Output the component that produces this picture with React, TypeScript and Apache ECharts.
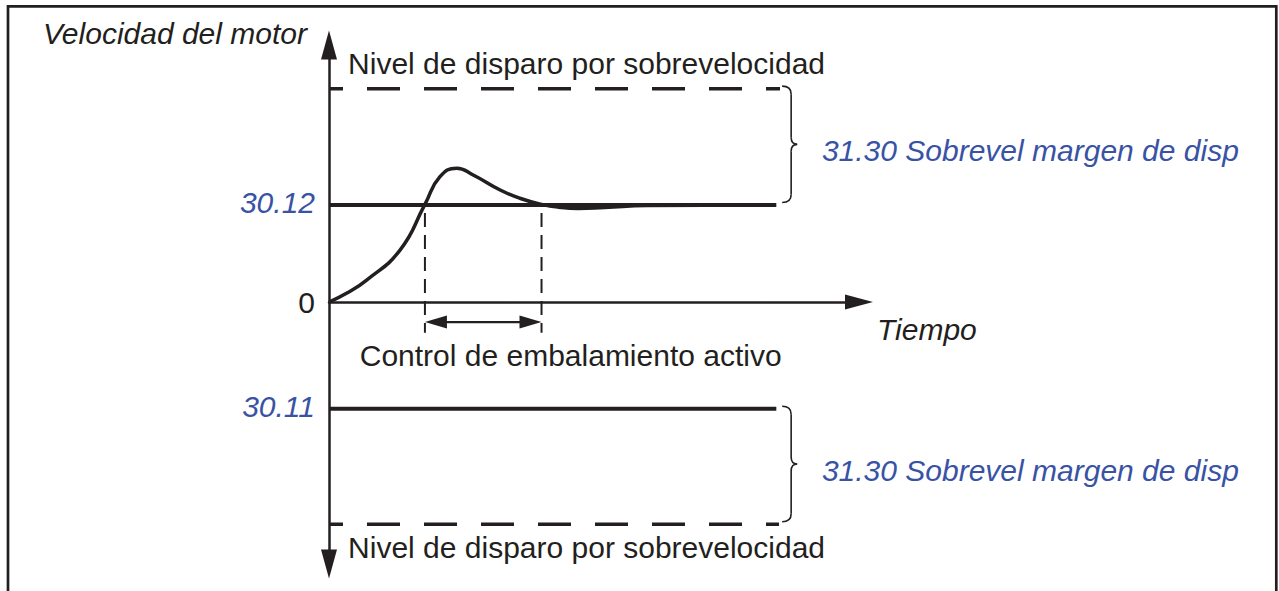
import React, { useEffect, useRef } from "react";
import * as echarts from "echarts";

const INK = "#231f20";
const BLUE = "#3953a4";
const FONT = "'Liberation Sans', Arial, Helvetica, sans-serif";
const FS = 30;

// Axes (time in arbitrary units, speed scaled so that 30.12 = 100)
const timeMin = 0;
const timeMax = 100;
const speedMin = -270;
const speedMax = 265;
const speedAxisName = "Velocidad del motor";

const speedTickValues = [-110, 0, 100];
const speedTickLabels = ["30.11", "0", "30.12"];

// Motor speed response
const curveTime = [0, 3.3, 7.1, 13.4, 18.1, 20.9, 24.1, 27.2, 32.3, 36, 40.1, 43.6, 47, 52, 60, 84.3];
const curveSpeed = [0, 9, 22.7, 53.6, 100.7, 129, 138, 131, 115.5, 107, 100.7, 97.6, 96.5, 97.5, 99.5, 100];

// Reference speeds 30.12 / 30.11
const refLevelSpeed = [100, -110];
const refLevelEnd = [84.4, 84.4];

// Overspeed trip levels
const tripLevelSpeed = [220, -229];
const tripLevelEnd = [85.1, 84.9];

// Overspeed control active window
const activeWindow = [18.1, 40.1];
const activeArrowSpeed = -20.6;
const activeMarkerBottom = -31.5;

// Braces for 31.30 margin
const braceTime = 85.5;
const braceTop = [220, -110];
const braceBottom = [100, -229];

// Annotations
const noteTexts = [
  "Nivel de disparo por sobrevelocidad",
  "Nivel de disparo por sobrevelocidad",
  "31.30 Sobrevel margen de disp",
  "31.30 Sobrevel margen de disp",
  "Control de embalamiento activo",
  "Tiempo",
];
const noteTime = [3.6, 3.6, 93, 93, 45.6, 103.4];
const noteSpeed = [246.4, -252.6, 156.2, -173.7, -54.6, -27.8];
const noteKinds = ["level", "level", "margin", "margin", "active", "axis"];

export default function App() {
  const ref = useRef<HTMLDivElement>(null);

  useEffect(() => {
    if (!ref.current) return;
    const chart = echarts.init(ref.current, undefined, { renderer: "svg" });

    const hLine = (speed: number, end: number) => [
      [timeMin, speed],
      [end, speed],
    ];

    const series: any[] = [];

    tripLevelSpeed.forEach((s, i) => {
      series.push({
        type: "line",
        name: "trip" + i,
        data: hLine(s, tripLevelEnd[i]),
        showSymbol: false,
        silent: true,
        lineStyle: { color: INK, width: 3.5, type: [33, 24], dashOffset: 19, cap: "butt" },
        z: 3,
      });
    });

    refLevelSpeed.forEach((s, i) => {
      series.push({
        type: "line",
        name: "ref" + i,
        data: hLine(s, refLevelEnd[i]),
        showSymbol: false,
        silent: true,
        lineStyle: { color: INK, width: 4 },
        z: 3,
      });
    });

    activeWindow.forEach((t, i) => {
      series.push({
        type: "line",
        name: "active" + i,
        data: [
          [t, refLevelSpeed[0]],
          [t, activeMarkerBottom],
        ],
        showSymbol: false,
        silent: true,
        lineStyle: { color: INK, width: 2, type: [14, 8], dashOffset: 14 },
        z: 3,
      });
    });

    series.push({
      type: "line",
      name: "speed",
      data: curveTime.map((t, i) => [t, curveSpeed[i]]),
      smooth: 0.5,
      showSymbol: false,
      silent: true,
      lineStyle: { color: INK, width: 3.5 },
      z: 4,
    });

    series.push({
      type: "custom",
      name: "braces",
      coordinateSystem: "cartesian2d",
      clip: false,
      silent: true,
      data: braceTop.map((t, i) => [braceTime, t, braceBottom[i]]),
      renderItem: (params: any, api: any) => {
        const pt = api.coord([api.value(0), api.value(1)]);
        const pb = api.coord([api.value(0), api.value(2)]);
        const x0 = pt[0];
        const yT = pt[1] - 2.5;
        const yB = pb[1] - 2.5;
        const mid = (yT + yB) / 2;
        const xv = x0 + 9;
        const xt = x0 + 15;
        const st = { stroke: INK, lineWidth: 1.6, fill: "none" };
        return {
          type: "group",
          children: [
            { type: "bezierCurve", shape: { x1: x0, y1: yT, x2: xv, y2: yT + 8, cpx1: xv, cpy1: yT }, style: st },
            { type: "line", shape: { x1: xv, y1: yT + 8, x2: xv, y2: mid - 7 }, style: st },
            { type: "bezierCurve", shape: { x1: xv, y1: mid - 7, x2: xt, y2: mid, cpx1: xv, cpy1: mid }, style: st },
            { type: "bezierCurve", shape: { x1: xt, y1: mid, x2: xv, y2: mid + 7, cpx1: xv, cpy1: mid }, style: st },
            { type: "line", shape: { x1: xv, y1: mid + 7, x2: xv, y2: yB - 8 }, style: st },
            { type: "bezierCurve", shape: { x1: xv, y1: yB - 8, x2: x0, y2: yB, cpx1: xv, cpy1: yB }, style: st },
          ],
        };
      },
      z: 3,
    });

    series.push({
      type: "custom",
      name: "activeArrow",
      coordinateSystem: "cartesian2d",
      clip: false,
      silent: true,
      data: [[activeWindow[0], activeArrowSpeed, activeWindow[1]]],
      renderItem: (params: any, api: any) => {
        const p1 = api.coord([api.value(0), api.value(1)]);
        const p2 = api.coord([api.value(2), api.value(1)]);
        const y = p1[1];
        const L = 22;
        const H = 6.5;
        return {
          type: "group",
          children: [
            { type: "line", shape: { x1: p1[0] + L - 2, y1: y, x2: p2[0] - L + 2, y2: y }, style: { stroke: INK, lineWidth: 2.2 } },
            { type: "polygon", shape: { points: [[p1[0], y], [p1[0] + L, y - H], [p1[0] + L, y + H]] }, style: { fill: INK } },
            { type: "polygon", shape: { points: [[p2[0], y], [p2[0] - L, y - H], [p2[0] - L, y + H]] }, style: { fill: INK } },
          ],
        };
      },
      z: 4,
    });

    series.push({
      type: "custom",
      name: "notes",
      coordinateSystem: "cartesian2d",
      clip: false,
      silent: true,
      data: noteTime.map((t, i) => [t, noteSpeed[i]]),
      renderItem: (params: any, api: any) => {
        const i = params.dataIndex;
        const p = api.coord([api.value(0), api.value(1)]);
        const kind = noteKinds[i];
        return {
          type: "text",
          x: p[0],
          y: p[1],
          style: {
            text: noteTexts[i],
            fill: kind === "margin" ? BLUE : INK,
            fontSize: FS,
            fontFamily: FONT,
            fontStyle: kind === "margin" || kind === "axis" ? "italic" : "normal",
            align: kind === "active" ? "center" : "left",
            verticalAlign: "middle",
          },
        };
      },
      z: 5,
    });

    chart.setOption({
      animation: false,
      backgroundColor: "#ffffff",
      textStyle: { fontFamily: FONT },
      graphic: [
        {
          type: "rect",
          silent: true,
          z: -10,
          shape: { x: 8, y: 6.4, width: 1268.3, height: 700 },
          style: { fill: "none", stroke: INK, lineWidth: 2.7 },
        },
      ],
      grid: { left: 329, top: 45, width: 530, height: 519, containLabel: false, outerBoundsMode: "none" },
      xAxis: {
        type: "value",
        min: timeMin,
        max: timeMax,
        axisLine: {
          show: true,
          onZero: true,
          symbol: ["none", "triangle"],
          symbolSize: [15, 28],
          lineStyle: { color: INK, width: 2.5 },
        },
        axisTick: { show: false },
        axisLabel: { show: false },
        splitLine: { show: false },
      },
      yAxis: {
        type: "value",
        min: speedMin,
        max: speedMax,
        interval: 10,
        name: speedAxisName,
        nameLocation: "end",
        nameGap: 12,
        nameTextStyle: {
          fontSize: FS,
          fontStyle: "italic",
          color: INK,
          fontFamily: FONT,
          align: "right",
          verticalAlign: "middle",
          padding: [0, 22, 0, 0],
        },
        axisLine: {
          show: true,
          onZero: true,
          symbol: ["triangle", "triangle"],
          symbolSize: [16, 29],
          lineStyle: { color: INK, width: 2.5 },
        },
        axisTick: { show: false },
        splitLine: { show: false },
        axisLabel: {
          show: true,
          customValues: speedTickValues,
          margin: 14,
          formatter: (v: number) => {
            const i = speedTickValues.indexOf(v);
            if (i < 0) return "";
            return v === 0 ? `{k|${speedTickLabels[i]}}` : `{b|${speedTickLabels[i]}}`;
          },
          rich: {
            k: { color: INK, fontSize: FS, fontFamily: FONT },
            b: { color: BLUE, fontSize: FS, fontFamily: FONT, fontStyle: "italic", padding: [0, 0, 5, 0] },
          },
        },
      },
      series,
    });

    return () => chart.dispose();
  }, []);

  return (
    <div
      ref={ref}
      style={{ position: "absolute", left: 0, top: 0, width: 1279, height: 591, background: "#fff" }}
    />
  );
}
